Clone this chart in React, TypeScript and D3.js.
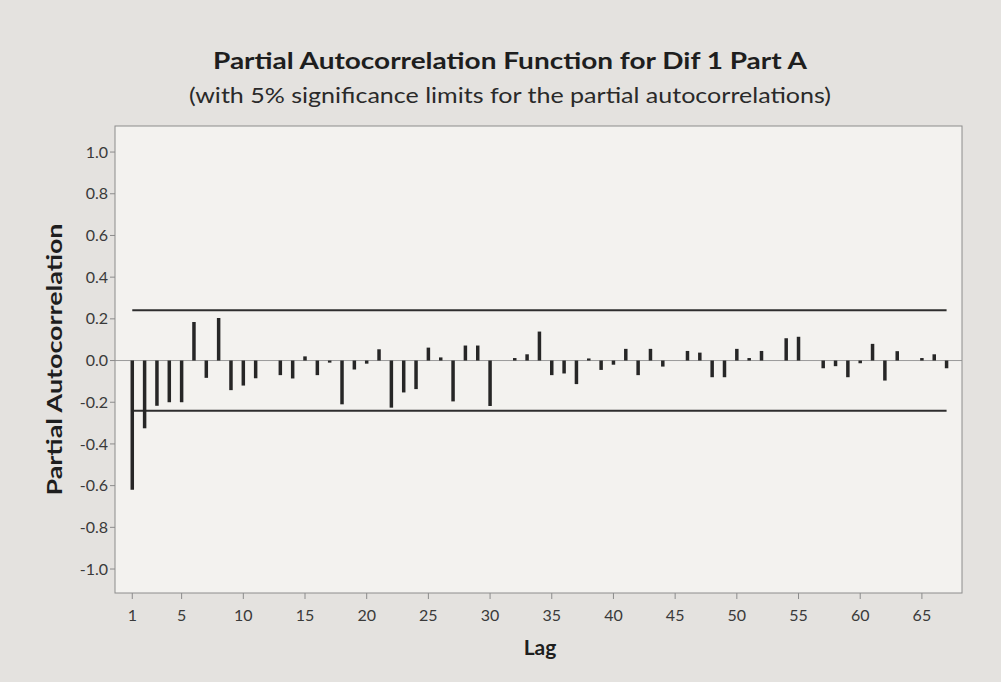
import React from "react";
import * as d3 from "d3";

// Partial autocorrelations, lag 1..67
const pacfValues: number[] = [
  -0.62, -0.325, -0.217, -0.2, -0.2, 0.185, -0.083, 0.204, -0.142, -0.12,
  -0.085, 0.0, -0.07, -0.086, 0.02, -0.07, -0.01, -0.21, -0.043, -0.015,
  0.054, -0.226, -0.153, -0.137, 0.062, 0.015, -0.196, 0.072, 0.072, -0.218,
  0.0, 0.012, 0.03, 0.139, -0.07, -0.062, -0.113, 0.01, -0.045, -0.02,
  0.056, -0.07, 0.056, -0.029, 0.0, 0.046, 0.038, -0.08, -0.08, 0.056,
  0.012, 0.046, 0.0, 0.107, 0.114, 0.0, -0.037, -0.027, -0.08, -0.013,
  0.08, -0.096, 0.045, 0.0, 0.012, 0.03, -0.037,
];
const significanceLimit = 0.241;
const xTickValues: number[] = [1, 5, 10, 15, 20, 25, 30, 35, 40, 45, 50, 55, 60, 65];
const yTickValues: number[] = [1.0, 0.8, 0.6, 0.4, 0.2, 0.0, -0.2, -0.4, -0.6, -0.8, -1.0];

const titleText = "Partial Autocorrelation Function for Dif 1 Part A";
const subtitleText = "(with 5% significance limits for the partial autocorrelations)";
const yLabelText = "Partial Autocorrelation";
const xLabelText = "Lag";

const W = 1001;
const H = 682;
const frame = { left: 115, right: 962, top: 126, bottom: 593 };
const FONT = "Lato, 'Open Sans', sans-serif";

export default function App() {
  const data = pacfValues.map((v, i) => ({ lag: i + 1, v }));
  const x = d3.scaleLinear().domain([-0.4, 68.25]).range([frame.left, frame.right]);
  const y = d3.scaleLinear().domain([-1.115, 1.125]).range([frame.bottom, frame.top]);
  const firstLag = data[0].lag;
  const lastLag = data[data.length - 1].lag;
  const fmt = d3.format(".1f");

  return (
    <svg
      width={W}
      height={H}
      style={{ position: "absolute", left: 0, top: 0, display: "block" }}
      fontFamily={FONT}
    >
      <rect x={0} y={0} width={W} height={H} fill="#e4e2df" />
      <rect
        x={frame.left}
        y={frame.top}
        width={frame.right - frame.left}
        height={frame.bottom - frame.top}
        fill="#f3f2ef"
      />

      {/* titles */}
      <text
        x={510}
        y={69}
        textAnchor="middle"
        fontSize={23.5}
        fontWeight={700}
        fill="#1e1e1e"
        textLength={594}
        lengthAdjust="spacingAndGlyphs"
      >
        {titleText}
      </text>
      <text
        x={510}
        y={103}
        textAnchor="middle"
        fontSize={20.5}
        fill="#2a2a2a"
        textLength={642}
        lengthAdjust="spacingAndGlyphs"
      >
        {subtitleText}
      </text>

      {/* zero line */}
      <line
        x1={frame.left}
        x2={frame.right}
        y1={y(0)}
        y2={y(0)}
        stroke="#9a9a9a"
        strokeWidth={1}
      />

      {/* significance limits */}
      {[significanceLimit, -significanceLimit].map((s, i) => (
        <line
          key={"lim" + i}
          x1={x(firstLag)}
          x2={x(lastLag)}
          y1={y(s)}
          y2={y(s)}
          stroke="#2e2e2e"
          strokeWidth={2}
        />
      ))}

      {/* bars */}
      {data
        .filter((d) => d.v !== 0)
        .map((d) => (
          <line
            key={"b" + d.lag}
            x1={x(d.lag)}
            x2={x(d.lag)}
            y1={y(0)}
            y2={y(d.v)}
            stroke="#262626"
            strokeWidth={3.5}
          />
        ))}

      {/* frame */}
      <rect
        x={frame.left}
        y={frame.top}
        width={frame.right - frame.left}
        height={frame.bottom - frame.top}
        fill="none"
        stroke="#8c8c8c"
        strokeWidth={1}
      />

      {/* y axis ticks */}
      {yTickValues.map((t) => (
        <g key={"yt" + t}>
          <line
            x1={frame.left - 5}
            x2={frame.left}
            y1={y(t)}
            y2={y(t)}
            stroke="#8c8c8c"
            strokeWidth={1}
          />
          <text
            x={frame.left - 7}
            y={y(t)}
            dy="0.35em"
            textAnchor="end"
            fontSize={16}
            fill="#3a3a3a"
          >
            {fmt(t).replace("−", "-")}
          </text>
        </g>
      ))}

      {/* x axis ticks */}
      {xTickValues.map((t) => (
        <g key={"xt" + t}>
          <line
            x1={x(t)}
            x2={x(t)}
            y1={frame.bottom}
            y2={frame.bottom + 6}
            stroke="#8c8c8c"
            strokeWidth={1}
          />
          <text
            x={x(t)}
            y={frame.bottom + 28}
            textAnchor="middle"
            fontSize={16}
            fill="#3a3a3a"
          >
            {t}
          </text>
        </g>
      ))}

      {/* axis labels */}
      <text
        transform={`translate(62, ${(frame.top + frame.bottom) / 2}) rotate(-90)`}
        textAnchor="middle"
        fontSize={20}
        fontWeight={700}
        fill="#1e1e1e"
        textLength={272}
        lengthAdjust="spacingAndGlyphs"
      >
        {yLabelText}
      </text>
      <text
        x={540}
        y={655}
        textAnchor="middle"
        fontSize={21}
        fontWeight={700}
        fill="#1e1e1e"
      >
        {xLabelText}
      </text>
    </svg>
  );
}
